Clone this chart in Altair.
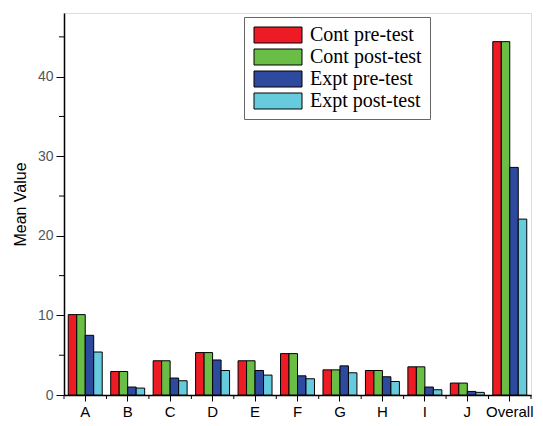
import altair as alt
import pandas as pd

categories = ["A", "B", "C", "D", "E", "F", "G", "H", "I", "J", "Overall"]
series = ["Cont pre-test", "Cont post-test", "Expt pre-test", "Expt post-test"]
cont_pre = [10.1, 2.95, 4.3, 5.33, 4.3, 5.2, 3.16, 3.08, 3.54, 1.5, 44.4]
cont_post = [10.1, 2.95, 4.3, 5.33, 4.3, 5.2, 3.16, 3.08, 3.54, 1.5, 44.4]
expt_pre = [7.5, 1.0, 2.13, 4.4, 3.08, 2.41, 3.66, 2.29, 1.0, 0.45, 28.6]
expt_post = [5.4, 0.87, 1.79, 3.08, 2.5, 2.04, 2.79, 1.7, 0.66, 0.33, 22.1]
colors = ["#ED1C24", "#6ABD45", "#2E4A9E", "#66CCDD"]
minor_y = [5, 15, 25, 35, 45]

rows = []
for s, vals in zip(series, [cont_pre, cont_post, expt_pre, expt_post]):
    for c, v in zip(categories, vals):
        rows.append({"cat": c, "series": s, "value": v})
df = pd.DataFrame(rows)

W, H = 467, 382
yscale = alt.Scale(domain=[0, 48], nice=False)

bars = alt.Chart(df).mark_bar(stroke="black", strokeWidth=1, opacity=1).encode(
    x=alt.X("cat:N", sort=categories, title=None,
            scale=alt.Scale(paddingInner=0.2, paddingOuter=0.1),
            axis=alt.Axis(labelAngle=0, labelFont="Liberation Sans", labelFontSize=15,
                          labelColor="black", tickColor="black", tickSize=6,
                          domainColor="black", domainWidth=1.5, labelPadding=3)),
    xOffset=alt.XOffset("series:N", sort=series),
    y=alt.Y("value:Q", scale=yscale, title="Mean Value",
            axis=alt.Axis(values=[0, 10, 20, 30, 40], grid=False, tickSize=8,
                          tickColor="black", domainColor="black", domainWidth=1.5,
                          labelFont="Liberation Sans", labelFontSize=14, labelColor="#555555",
                          labelPadding=3, titleFont="Liberation Sans", titleFontSize=16,
                          titleFontWeight="normal", titleColor="black", titlePadding=9)),
    color=alt.Color("series:N", sort=series,
                    scale=alt.Scale(domain=series, range=colors),
                    legend=alt.Legend(title=None, orient="none", legendX=180, legendY=4,
                                      symbolType="M-1,-1L5,-1L5,1L-1,1Z", symbolSize=256,
                                      symbolStrokeColor="black", symbolStrokeWidth=1,
                                      symbolOpacity=1, labelOffset=38,
                                      labelFont="Liberation Serif", labelFontSize=20,
                                      labelColor="black", rowPadding=2, padding=8,
                                      strokeColor="#666666", fillColor="white")),
)

ytick_df = pd.DataFrame({"v": minor_y})
yminor = alt.Chart(ytick_df).mark_rule(color="black", strokeWidth=1).encode(
    y=alt.Y("v:Q", scale=yscale),
    x=alt.value(-5), x2=alt.value(0),
)

xtick_df = pd.DataFrame({"cat": categories})
xminor = alt.Chart(xtick_df).mark_rule(color="black", strokeWidth=1).encode(
    x=alt.X("cat:N", sort=categories, bandPosition=0,
            scale=alt.Scale(type="band", paddingInner=0, paddingOuter=0), axis=None),
    y=alt.value(H), y2=alt.value(H + 4),
)
xend = alt.Chart(pd.DataFrame({"cat": categories[-1:]})).mark_rule(color="black", strokeWidth=1).encode(
    x=alt.X("cat:N", bandPosition=1,
            scale=alt.Scale(type="band", paddingInner=0, paddingOuter=0), axis=None),
    y=alt.value(H), y2=alt.value(H + 4),
)

chart = alt.layer(bars, yminor, xminor, xend).resolve_scale(x="independent").properties(
    width=W, height=H,
    autosize=alt.AutoSizeParams(type="none"),
    padding={"left": 56, "top": 5, "right": 4, "bottom": 23},
).configure_view(stroke=None).configure(background="white")

chart.save("out.html", embed_options={"renderer": "svg", "actions": False})
